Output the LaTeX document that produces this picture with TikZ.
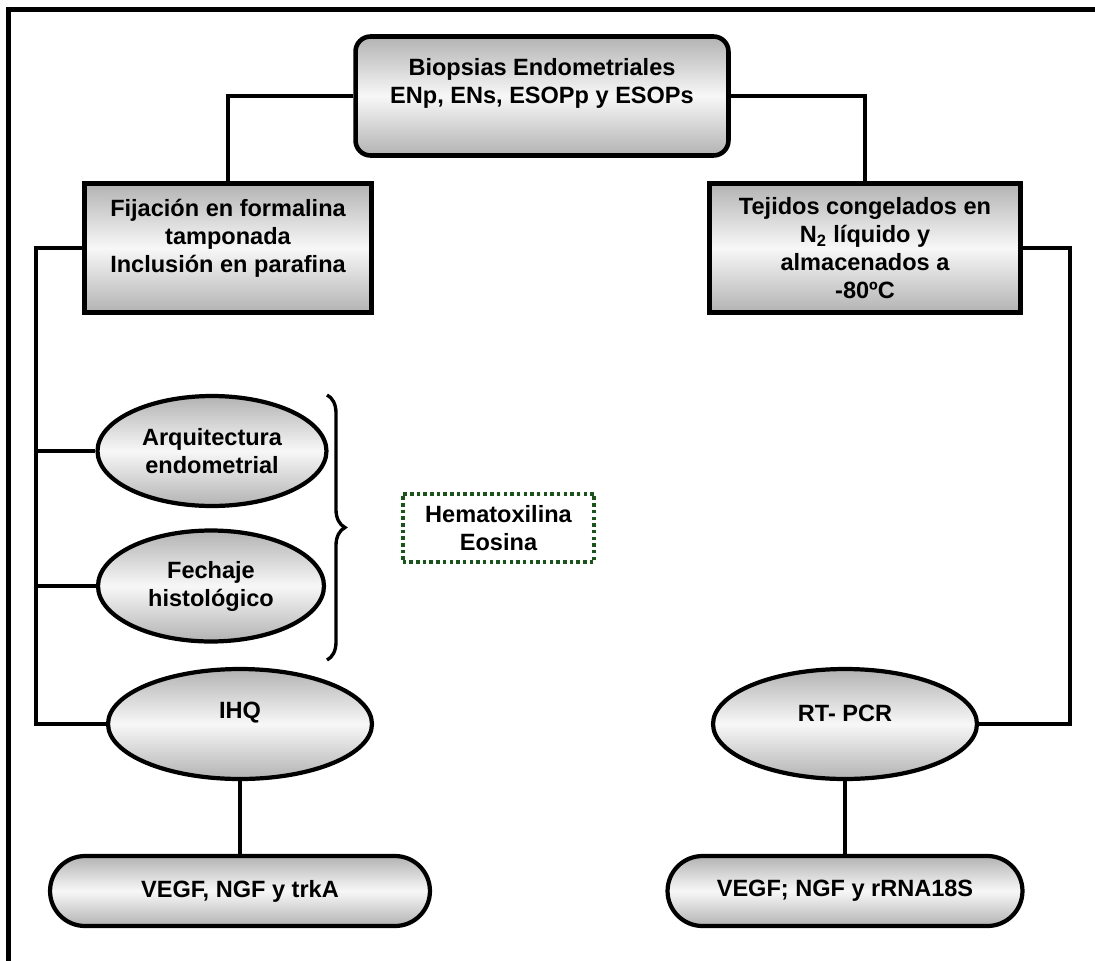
\documentclass[tikz,border=0pt]{standalone}
\usepackage{fontspec}
\setmainfont{Liberation Sans}
\usetikzlibrary{shapes.geometric,decorations.pathreplacing}

\definecolor{verde}{RGB}{25,85,25}

\tikzset{
  linea/.style={line width=2.1pt},
  sombra/.style={top color=black!30, bottom color=black!30, middle color=black!3},
  caja/.style={draw, sombra, line width=2.6pt, inner sep=0pt},
  elipse/.style={ellipse, draw, sombra, line width=2.4pt, inner sep=0pt},
  pastilla/.style={draw, sombra, line width=2.4pt, rounded corners=0.7cm, inner sep=0pt,
    minimum height=1.4cm},
  texto/.style={align=center, font=\bfseries\fontsize{13.4}{15.9}\selectfont},
}

\begin{document}
\begin{tikzpicture}[x=0.02cm, y=-0.02cm]

\useasboundingbox (0,0) rectangle (1095,960);
\draw[line width=2.4pt] (8.5,9.5) rectangle (1120,990);

% cajas superiores
\node[caja, rounded corners=0.3cm, minimum width=7.46cm, minimum height=2.38cm] (bio) at (542,96) {};
\node[texto] (bio-t) at (542,83) {Biopsias Endometriales\\ENp, ENs, ESOPp y ESOPs};

\node[caja, minimum width=5.74cm, minimum height=2.58cm] (fij) at (228,248) {};
\node[texto] (fij-t) at (228,238) {Fijación en formalina\\tamponada\\Inclusión en parafina};

\node[caja, texto, minimum width=6.22cm, minimum height=2.58cm] (tej) at (865,248)
  {Tejidos congelados en\\N\textsubscript{2} líquido y\\almacenados a\\-80ºC};

% tecnicas
\node[elipse, texto, minimum width=4.58cm, minimum height=2.2cm] (arq) at (212,451) {Arquitectura\\endometrial};
\node[elipse, texto, minimum width=4.52cm, minimum height=2.22cm] (fec) at (211,586) {Fechaje\\histológico};

\node[elipse, minimum width=5.28cm, minimum height=2.2cm] (ihq) at (240,724) {};
\node[texto] (ihq-t) at (240,713) {IHQ};
\node[elipse, minimum width=5.28cm, minimum height=2.2cm] (rt) at (845,724) {};
\node[texto] (rt-t) at (845,713) {RT- PCR};

\node[pastilla, texto, minimum width=7.6cm] (gen1) at (240,891) {VEGF, NGF y trkA};
\node[pastilla, texto, minimum width=7.1cm] (gen2) at (845,891) {VEGF; NGF y rRNA18S};

\node[draw=verde, line width=2pt, dash pattern=on 2pt off 1.8pt, texto,
  minimum width=3.83cm, minimum height=1.37cm] (he) at (498.5,528) {Hematoxilina\\Eosina};
\draw[line width=1.9pt, decorate, decoration={brace, amplitude=0.36cm}] (327,395) -- (327,660);

% conexiones
\draw[linea] (bio.west) -| (fij.north);
\draw[linea] (bio.east) -| (tej.north);
\draw[linea] (fij.west) -- ++(-46,0) coordinate (izq) |- (ihq.west);
\draw[linea] (izq |- arq.west) -- (arq.west);
\draw[linea] (izq |- fec.west) -- (fec.west);
\draw[linea] (tej.east) -- ++(47,0) |- (rt.east);
\draw[linea] (ihq) -- (gen1);
\draw[linea] (rt) -- (gen2);

\end{tikzpicture}
\end{document}
